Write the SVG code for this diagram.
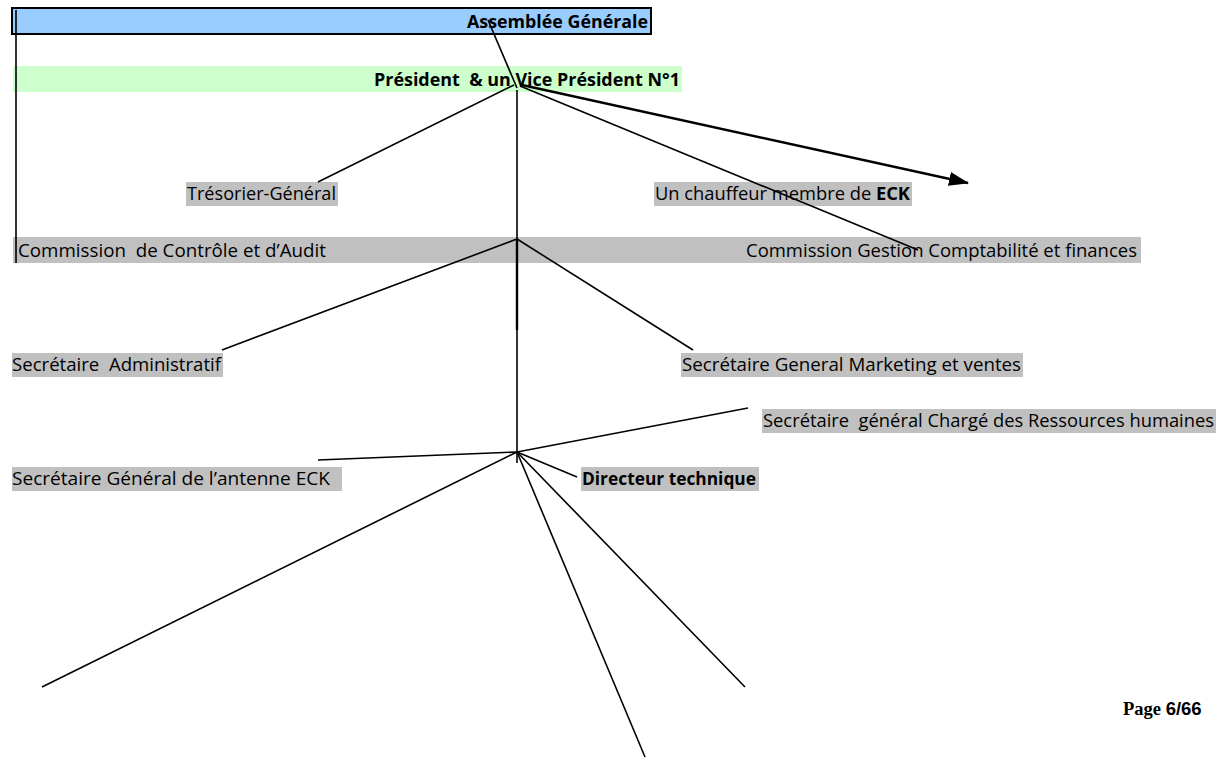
<svg xmlns="http://www.w3.org/2000/svg" width="1218" height="758" viewBox="0 0 1218 758">
<defs>
<style>
.t{font-family:"Open Sans","Liberation Sans",Arial,sans-serif;font-size:18.5px;fill:#000;white-space:pre}
.b{font-weight:bold}
.g{fill:#c0c0c0}
.ln{stroke:#000;stroke-width:1.6;fill:none}
</style>
<marker id="ah2" viewBox="0 0 20 14" refX="19" refY="7" markerWidth="20" markerHeight="14" markerUnits="userSpaceOnUse" orient="auto">
<path d="M0,0 L20,7 L0,14 z" fill="#000"/>
</marker>
</defs>
<rect width="1218" height="758" fill="#fff"/>

<g id="assemblee">
<rect x="12" y="8" width="639" height="26" fill="#99ccff" stroke="#000" stroke-width="2"/>
<text class="t b" x="467" y="28" textLength="181" lengthAdjust="spacingAndGlyphs">Assemblée Générale</text>
</g>
<g id="president">
<rect x="13" y="66" width="669" height="26" fill="#ccffcc"/>
<text class="t b" x="374" y="86" textLength="306" lengthAdjust="spacingAndGlyphs">Président  &amp; un Vice Président N°1</text>
</g>
<g id="tresorier">
<rect x="186" y="182" width="152" height="24" class="g"/>
<text class="t" x="187" y="200" textLength="149" lengthAdjust="spacingAndGlyphs">Trésorier-Général</text>
</g>
<g id="chauffeur">
<rect x="654" y="182" width="258" height="24" class="g"/>
<text class="t" x="655" y="200" textLength="255" lengthAdjust="spacingAndGlyphs">Un chauffeur membre de <tspan class="b">ECK</tspan></text>
</g>
<g id="commissions">
<rect x="13" y="237" width="1128" height="26" class="g"/>
</g>
<g id="commission-controle">
<text class="t" x="18" y="257" textLength="308" lengthAdjust="spacingAndGlyphs">Commission  de Contrôle et d’Audit</text>
</g>
<g id="commission-gestion">
<text class="t" x="746" y="257" textLength="391" lengthAdjust="spacingAndGlyphs">Commission Gestion Comptabilité et finances</text>
</g>
<g id="sec-admin">
<rect x="12" y="353" width="211" height="24" class="g"/>
<text class="t" x="12" y="371" textLength="209" lengthAdjust="spacingAndGlyphs">Secrétaire  Administratif</text>
</g>
<g id="sec-marketing">
<rect x="681" y="353" width="342" height="24" class="g"/>
<text class="t" x="682" y="371" textLength="339" lengthAdjust="spacingAndGlyphs">Secrétaire General Marketing et ventes</text>
</g>
<g id="sec-rh">
<rect x="762" y="409" width="454" height="24" class="g"/>
<text class="t" x="763" y="427" textLength="451" lengthAdjust="spacingAndGlyphs">Secrétaire  général Chargé des Ressources humaines</text>
</g>
<g id="sec-antenne">
<rect x="12" y="467" width="330" height="24" class="g"/>
<text class="t" x="12" y="485" textLength="318" lengthAdjust="spacingAndGlyphs">Secrétaire Général de l’antenne ECK</text>
</g>
<g id="directeur">
<rect x="581" y="467" width="178" height="24" class="g"/>
<text class="t b" x="582" y="485" textLength="174" lengthAdjust="spacingAndGlyphs">Directeur technique</text>
</g>

<g id="connectors">
<line class="ln" x1="16" y1="10" x2="16" y2="263"/>
<line class="ln" x1="488" y1="20" x2="517" y2="88"/>
<line class="ln" x1="514" y1="85" x2="318" y2="182"/>
<line class="ln" x1="520" y1="86" x2="918" y2="250"/>
<line x1="522" y1="85" x2="968" y2="183" stroke="#000" stroke-width="2.4" marker-end="url(#ah2)"/>
<line class="ln" x1="517" y1="90" x2="517" y2="463"/>
<line x1="517" y1="239" x2="517" y2="330" stroke="#000" stroke-width="2.4"/>
<line class="ln" x1="517" y1="239" x2="222" y2="350"/>
<line class="ln" x1="517" y1="239" x2="693" y2="350"/>
<line class="ln" x1="517" y1="452" x2="318" y2="460"/>
<line class="ln" x1="517" y1="452" x2="748" y2="408"/>
<line class="ln" x1="517" y1="452" x2="577" y2="477"/>
<line class="ln" x1="517" y1="452" x2="42" y2="687"/>
<line class="ln" x1="517" y1="452" x2="645" y2="757"/>
<line class="ln" x1="517" y1="452" x2="745" y2="687"/>
</g>

<g id="page">
<text x="1123" y="715" font-size="18.5" font-weight="bold"><tspan font-family="Liberation Serif,serif">Page </tspan><tspan font-family="Liberation Sans,Arial,sans-serif">6/66</tspan></text>
</g>
</svg>
